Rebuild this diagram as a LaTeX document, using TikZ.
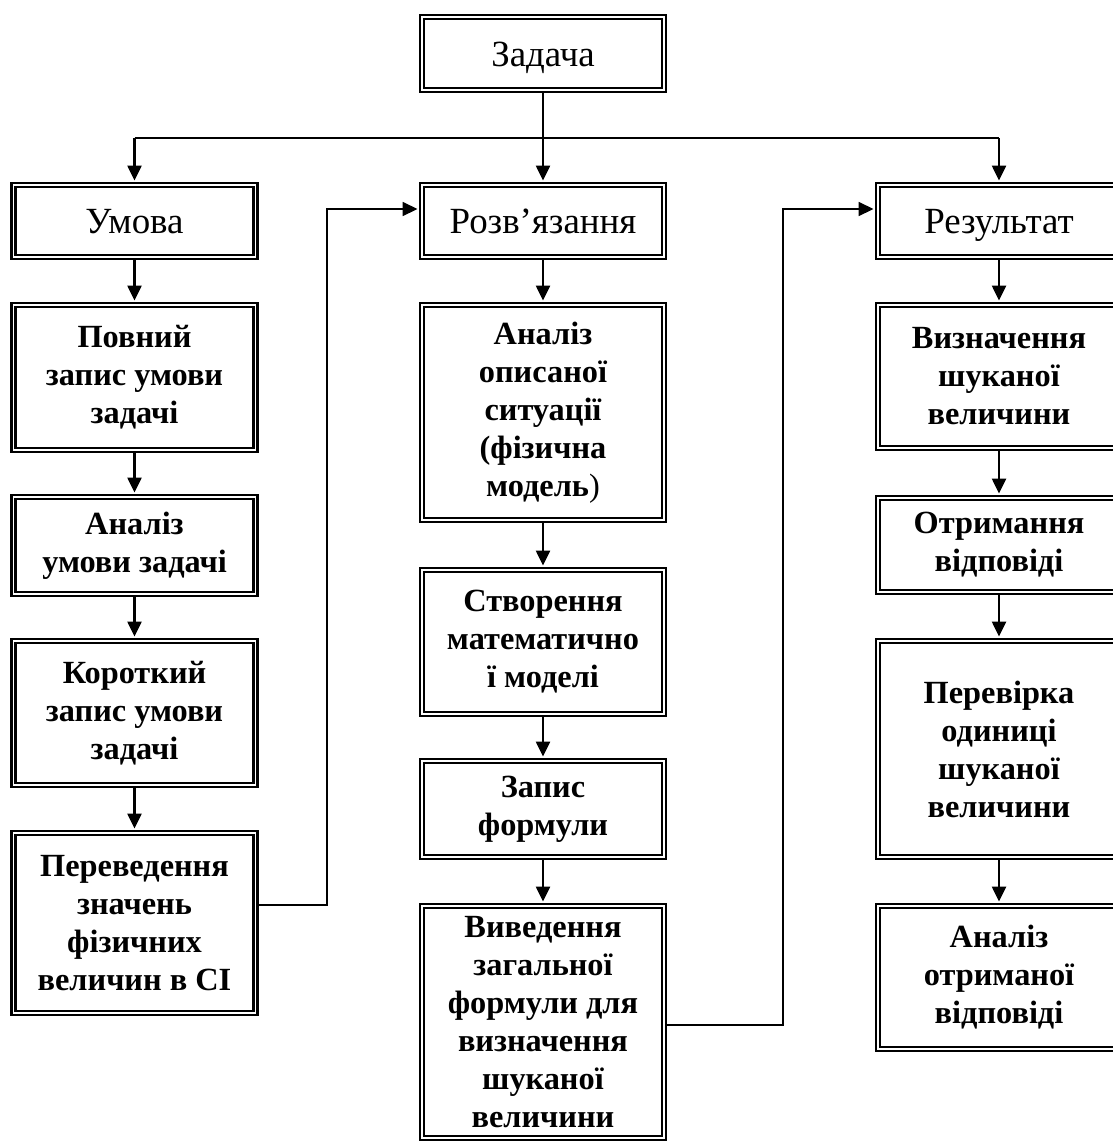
\documentclass[tikz,border=0pt]{standalone}
\usepackage{fontspec}
\setmainfont{Liberation Serif}
\usetikzlibrary{arrows.meta}

\tikzset{
  frame/.style={draw, line width=1.3pt, double, double distance=1.1pt, minimum width=4.84cm, align=center, inner sep=2pt},
  headbox/.style={frame, minimum height=1.44cm, font=\fontsize{21}{25}\selectfont, text height=17.5pt, text depth=3pt},
  stepbox/.style={frame, font=\fontsize{18.4}{21.6}\selectfont\bfseries},
  tip/.style={-{Triangle[length=8.5pt,width=8pt]}, shorten >=1.9pt},
  arr/.style={line width=1.2pt, tip},
  link/.style={line width=0.8pt}
}

\begin{document}
\begin{tikzpicture}
\useasboundingbox (0,0) rectangle (22.26,-22.88);
\clip (0,0) rectangle (22.26,-22.88);

\node[headbox, minimum height=1.46cm] (task) at (10.86,-1.07) {Задача};
\node[headbox] (umova) at (2.69,-4.42) {Умова};
\node[headbox] (rozv) at (10.86,-4.42) {Розв’язання};
\node[headbox] (rez) at (19.98,-4.42) {Результат};

\node[stepbox, minimum height=2.90cm] (povn) at (2.69,-7.55) {Повний\\запис умови\\задачі};
\node[stepbox, minimum height=1.94cm] (anum) at (2.69,-10.91) {Аналіз\\умови задачі};
\node[stepbox, minimum height=2.88cm] (krot) at (2.69,-14.26) {Короткий\\запис умови\\задачі};
\node[stepbox, minimum height=3.60cm] (perev) at (2.69,-18.46) {Переведення\\значень\\фізичних\\величин в СІ};

\node[stepbox, minimum height=4.30cm] (anop) at (10.86,-8.25) {Аналіз\\описаної\\ситуації\\(фізична\\модель{\mdseries)}};
\node[stepbox, minimum height=2.88cm] (stvor) at (10.86,-12.84) {Створення\\математично\\ї моделі};
\node[stepbox, minimum height=1.92cm] (zapys) at (10.86,-16.18) {Запис\\формули};
\node[stepbox, minimum height=4.64cm] (vyved) at (10.86,-20.44) {Виведення\\загальної\\формули для\\визначення\\шуканої\\величини};

\node[stepbox, minimum height=2.86cm] (vyzn) at (19.98,-7.53) {Визначення\\шуканої\\величини};
\node[stepbox, minimum height=1.88cm] (otrym) at (19.98,-10.90) {Отримання\\відповіді};
\node[stepbox, minimum height=4.32cm] (perevir) at (19.98,-14.98) {Перевірка\\одиниці\\шуканої\\величини};
\node[stepbox, minimum height=2.86cm] (anotr) at (19.98,-19.55) {Аналіз\\отриманої\\відповіді};

\coordinate (brL) at (2.69,-2.76);
\coordinate (brR) at (19.98,-2.76);
\coordinate (up1) at (6.54,-4.18);
\coordinate (up2) at (15.66,-4.18);

\draw[arr] (task.south) -- (rozv.north);
\draw[link] (brL) -- (brR);
\draw[arr] (brL) -- (umova.north);
\draw[arr] (brR) -- (rez.north);

\draw[arr] (umova) -- (povn);
\draw[arr] (povn) -- (anum);
\draw[arr] (anum) -- (krot);
\draw[arr] (krot) -- (perev);

\draw[arr] (rozv) -- (anop);
\draw[arr] (anop) -- (stvor);
\draw[arr] (stvor) -- (zapys);
\draw[arr] (zapys) -- (vyved);

\draw[arr] (rez) -- (vyzn);
\draw[arr] (vyzn) -- (otrym);
\draw[arr] (otrym) -- (perevir);
\draw[arr] (perevir) -- (anotr);

\draw[link, tip] ([yshift=0.36cm]perev.east) -| (up1) -- (rozv.west |- up1);
\draw[link, tip] ([yshift=-0.06cm]vyved.east) -| (up2) -- (rez.west |- up2);
\end{tikzpicture}
\end{document}
